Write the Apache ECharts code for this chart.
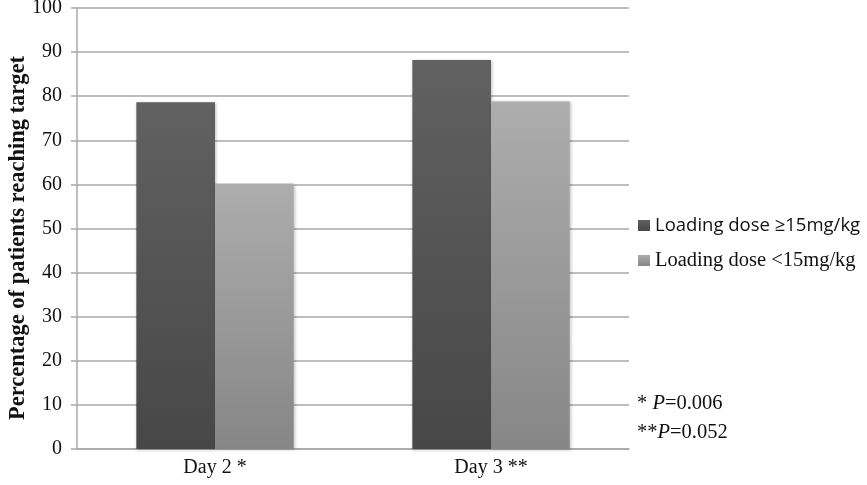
<!DOCTYPE html>
<html>
<head>
<meta charset="utf-8">
<script src="https://cdn.jsdelivr.net/npm/echarts@6/dist/echarts.min.js"></script>
<style>html,body{margin:0;padding:0;background:#fff}#c{width:867px;height:485px}</style>
</head>
<body>
<div id="c"></div>
<script>
const categories = ['Day 2 *', 'Day 3 **'];
const seriesNames = ['Loading dose \u226515mg/kg', 'Loading dose <15mg/kg'];
const highDose = [78.6, 88.2];
const lowDose = [60.2, 78.8];
const yTicks = [0, 10, 20, 30, 40, 50, 60, 70, 80, 90, 100];
const yTitle = 'Percentage of patients reaching target';

const chart = echarts.init(document.getElementById('c'));
const grad = (a, b) => new echarts.graphic.LinearGradient(0, 0, 0, 1, [{offset: 0, color: a}, {offset: 1, color: b}]);
chart.setOption({
  animation: false,
  backgroundColor: '#fff',
  grid: {left: 77, right: 238, top: 8, bottom: 36, containLabel: false, outerBoundsMode: 'none'},
  xAxis: {
    type: 'category', data: categories,
    axisLine: {lineStyle: {color: '#a8a8a8', width: 1.5}},
    axisTick: {show: false},
    axisLabel: {fontFamily: 'Liberation Serif', fontSize: 20, color: '#111', margin: 9}
  },
  yAxis: {
    type: 'value', min: yTicks[0], max: yTicks[yTicks.length - 1], interval: 10,
    axisLine: {show: true, lineStyle: {color: '#a8a8a8', width: 1.5}},
    axisTick: {show: true, length: 6, lineStyle: {color: '#a8a8a8', width: 1.5}},
    axisLabel: {fontFamily: 'Liberation Serif', fontSize: 20, color: '#111', margin: 15},
    splitLine: {lineStyle: {color: '#a8a8a8', width: 1.5}}
  },
  legend: [{
    data: [seriesNames[0]], orient: 'vertical', left: 633, top: 211,
    itemWidth: 12, itemHeight: 11, icon: 'rect',
    textStyle: {fontFamily: 'Open Sans', fontSize: 18.5, color: '#111'}
  }, {
    data: [seriesNames[1]], orient: 'vertical', left: 633, top: 245,
    itemWidth: 12, itemHeight: 11, icon: 'rect',
    textStyle: {fontFamily: 'Liberation Serif', fontSize: 20.5, color: '#111'}
  }],
  graphic: [{
    type: 'text', x: 18, y: 238, rotation: Math.PI / 2,
    style: {
      text: yTitle, fontFamily: 'Liberation Serif', fontSize: 22.5, fontWeight: 'bold', fill: '#111',
      align: 'center', verticalAlign: 'middle'
    }
  }, {
    type: 'text', left: 637, top: 393,
    style: {
      text: '{n|* }{i|P}{n|=0.006}\n{n|**}{i|P}{n|=0.052}',
      rich: {
        n: {fontFamily: 'Liberation Serif', fontSize: 20.5, fill: '#111', lineHeight: 29},
        i: {fontFamily: 'Liberation Serif', fontSize: 20.5, fontStyle: 'italic', fill: '#111', lineHeight: 29}
      }
    }
  }],
  series: [{
    name: seriesNames[0], type: 'bar', data: highDose,
    barGap: '0%', barCategoryGap: '43%',
    itemStyle: {color: grad('#616161', '#474747'), shadowColor: 'rgba(0,0,0,0.25)', shadowBlur: 3, shadowOffsetX: 1, shadowOffsetY: 1}
  }, {
    name: seriesNames[1], type: 'bar', data: lowDose,
    itemStyle: {color: grad('#adadad', '#868686'), shadowColor: 'rgba(0,0,0,0.25)', shadowBlur: 3, shadowOffsetX: 1, shadowOffsetY: 1}
  }]
});
</script>
</body>
</html>
